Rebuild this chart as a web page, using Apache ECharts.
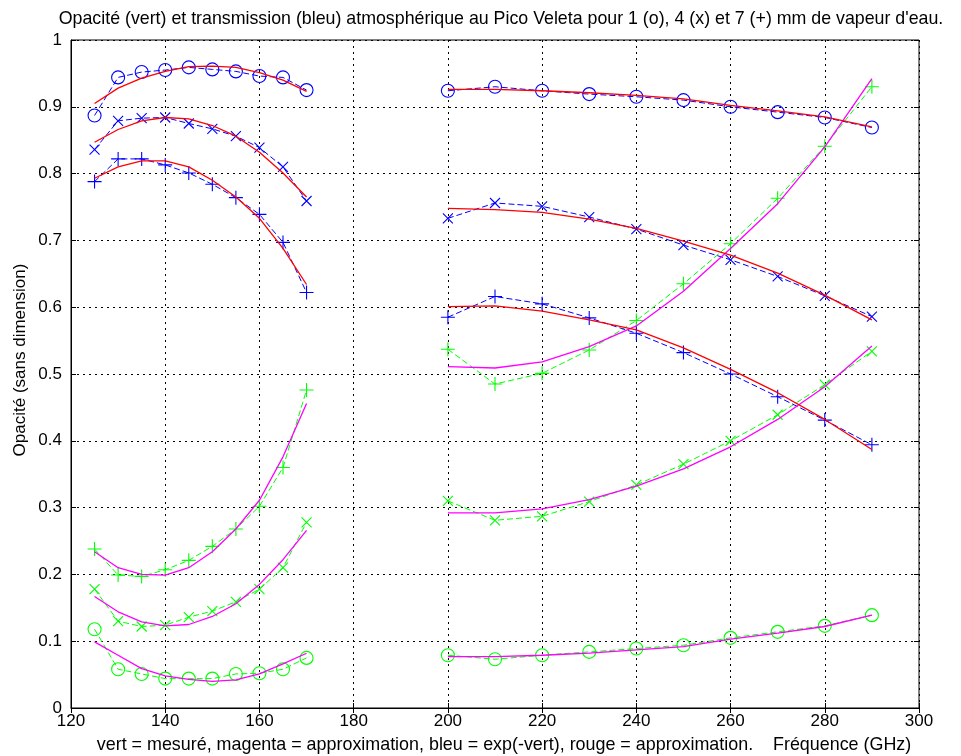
<!DOCTYPE html>
<html><head><meta charset="utf-8">
<script src="https://cdn.jsdelivr.net/npm/echarts@6/dist/echarts.min.js"></script>
<style>html,body{margin:0;padding:0;background:#fff}#c{width:961px;height:756px}</style>
</head><body><div id="c"></div>
<script>
// Frequencies (GHz)
const freqLeft  = [125,130,135,140,145,150,155,160,165,170];
const freqRight = [200,210,220,230,240,250,260,270,280,290];

// Green: measured opacity (vert = mesuré)
const green1L = [0.118,0.058,0.051,0.044,0.044,0.044,0.051,0.052,0.058,0.075];
const green1R = [0.079,0.073,0.079,0.084,0.089,0.094,0.105,0.114,0.123,0.139];
const green4L = [0.178,0.130,0.122,0.124,0.136,0.145,0.159,0.178,0.210,0.278];
const green4R = [0.310,0.281,0.287,0.309,0.334,0.365,0.400,0.439,0.484,0.534];
const green7L = [0.238,0.199,0.197,0.207,0.221,0.242,0.268,0.302,0.360,0.476];
const green7R = [0.537,0.485,0.501,0.536,0.580,0.635,0.695,0.763,0.841,0.930];

// Magenta: approximation of opacity
const mag1L = [0.099,0.079,0.059,0.048,0.043,0.040,0.042,0.051,0.066,0.082];
const mag1R = [0.077,0.077,0.079,0.082,0.087,0.092,0.103,0.112,0.122,0.139];
const mag4L = [0.167,0.144,0.129,0.123,0.125,0.137,0.156,0.185,0.222,0.266];
const mag4R = [0.292,0.292,0.298,0.312,0.332,0.358,0.391,0.432,0.481,0.542];
const mag7L = [0.234,0.210,0.200,0.199,0.210,0.234,0.268,0.311,0.376,0.456];
const mag7R = [0.511,0.509,0.518,0.541,0.572,0.624,0.688,0.755,0.840,0.942];

// Blue: transmission exp(-vert)
const blue1L = [0.887,0.944,0.952,0.955,0.959,0.956,0.953,0.946,0.944,0.925];
const blue1R = [0.924,0.930,0.924,0.919,0.915,0.910,0.900,0.892,0.884,0.869];
const blue4L = [0.836,0.879,0.883,0.884,0.875,0.867,0.856,0.839,0.810,0.759];
const blue4R = [0.733,0.756,0.751,0.735,0.717,0.693,0.671,0.646,0.617,0.586];
const blue7L = [0.788,0.822,0.822,0.813,0.801,0.784,0.764,0.739,0.697,0.622];
const blue7R = [0.585,0.616,0.605,0.584,0.561,0.532,0.500,0.466,0.431,0.394];

// Red: approximation of transmission
const red1L = [0.905,0.928,0.943,0.953,0.960,0.961,0.959,0.951,0.940,0.923];
const red1R = [0.926,0.926,0.924,0.921,0.917,0.912,0.902,0.894,0.885,0.870];
const red4L = [0.847,0.866,0.879,0.884,0.882,0.872,0.856,0.832,0.801,0.765];
const red4R = [0.748,0.746,0.742,0.732,0.718,0.699,0.678,0.651,0.618,0.581];
const red7L = [0.793,0.810,0.819,0.819,0.810,0.790,0.765,0.733,0.688,0.634];
const red7R = [0.601,0.602,0.594,0.581,0.566,0.539,0.507,0.472,0.432,0.387];

const xTicks = [120,140,160,180,200,220,240,260,280,300];

function pairs(L, R){
  return freqLeft.map((f,i)=>[f,L[i]]).concat([[185,null]]).concat(freqRight.map((f,i)=>[f,R[i]]));
}
const SYM = {
  o: 'circle',
  x: 'path://M0,0L10,10M0,10L10,0',
  p: 'path://M5,0L5,10M0,5L10,5'
};
const SIZE = {o: 13, x: 10, p: 14};
function measured(name, L, R, color, mk){
  return {
    name, type:'line', data:pairs(L,R), connectNulls:false,
    symbol:SYM[mk], symbolSize:SIZE[mk], showSymbol:true,
    lineStyle:{color, width:1, type:[6,3]},
    itemStyle:{color:'rgba(0,0,0,0)', borderColor:color, borderWidth:1.1},
    emphasis:{disabled:true}, z:3
  };
}
function approx(name, L, R, color){
  return {
    name, type:'line', data:pairs(L,R), connectNulls:false,
    symbol:'none', lineStyle:{color, width:1.3, type:'solid'},
    emphasis:{disabled:true}, z:4
  };
}
const G='#00ff00', M='#ff00ff', B='#0000ff', Rd='#ff0000';
const series = [
  measured('v1', green1L, green1R, G, 'o'),
  measured('v4', green4L, green4R, G, 'x'),
  measured('v7', green7L, green7R, G, 'p'),
  approx('m1', mag1L, mag1R, M),
  approx('m4', mag4L, mag4R, M),
  approx('m7', mag7L, mag7R, M),
  measured('b1', blue1L, blue1R, B, 'o'),
  measured('b4', blue4L, blue4R, B, 'x'),
  measured('b7', blue7L, blue7R, B, 'p'),
  approx('r1', red1L, red1R, Rd),
  approx('r4', red4L, red4R, Rd),
  approx('r7', red7L, red7R, Rd)
];

const FONT = 'Liberation Sans, Arial, sans-serif';
const chart = echarts.init(document.getElementById('c'), null, {renderer:'canvas'});
const gridLine = {show:true, lineStyle:{color:'#000', type:[2,4], width:1}};
chart.setOption({
  animation:false,
  backgroundColor:'#fff',
  grid:{left:71, right:42, top:40, bottom:48, show:true, borderColor:'#000', borderWidth:1, containLabel:false},
  xAxis:[{
    type:'value', min:120, max:300, interval:20,
    axisLine:{show:true, lineStyle:{color:'#000'}},
    axisTick:{show:true, inside:true, length:5, lineStyle:{color:'#000'}},
    axisLabel:{fontFamily:FONT, fontSize:17, color:'#000', margin:5,
      customValues: xTicks},
    splitLine:gridLine
  },{
    type:'value', min:120, max:300, interval:20, position:'top',
    axisLine:{show:false}, axisTick:{show:true, inside:true, length:5, lineStyle:{color:'#000'}},
    axisLabel:{show:false}, splitLine:{show:false}
  }],
  yAxis:[{
    type:'value', min:0, max:1, interval:0.1,
    axisLine:{show:true, lineStyle:{color:'#000'}},
    axisTick:{show:true, inside:true, length:5, lineStyle:{color:'#000'}},
    axisLabel:{fontFamily:FONT, fontSize:17, color:'#000', margin:9},
    splitLine:gridLine
  },{
    type:'value', min:0, max:1, interval:0.1, position:'right',
    axisLine:{show:false}, axisTick:{show:true, inside:true, length:5, lineStyle:{color:'#000'}},
    axisLabel:{show:false}, splitLine:{show:false}
  }],
  graphic:[
    {type:'text', x:501, y:19,
      style:{text:"Opacité (vert) et transmission (bleu) atmosphérique au Pico Veleta pour 1 (o), 4 (x) et 7 (+) mm de vapeur d'eau.",
        font:'17.8px '+FONT, fill:'#000', align:'center', verticalAlign:'middle'}},
    {type:'text', x:504, y:745,
      style:{text:'vert = mesuré, magenta = approximation, bleu = exp(-vert), rouge = approximation.    Fréquence (GHz)',
        font:'17.9px '+FONT, fill:'#000', align:'center', verticalAlign:'middle'}},
    {type:'text', x:20, y:360, rotation:Math.PI/2,
      style:{text:'Opacité (sans dimension)', font:'17px '+FONT, fill:'#000', align:'center', verticalAlign:'middle'}}
  ],
  series
});
</script></body></html>
